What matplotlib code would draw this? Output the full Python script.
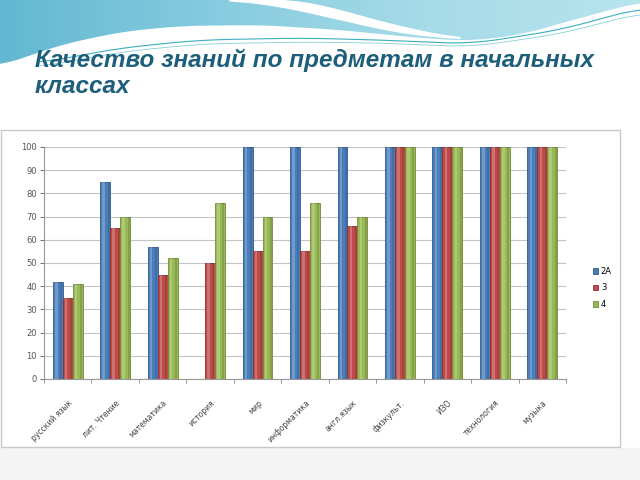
import matplotlib.pyplot as plt
import numpy as np
from matplotlib.colors import LinearSegmentedColormap
from matplotlib.patches import Polygon, Rectangle

subjects = ["русский язык", "лит. Чтение", "математика", "история", "мир",
            "информатика", "англ.язык", "физкульт.", "ИЗО", "технология", "музыка"]
series_names = ["2А", "3", "4"]
grade_2a = [42, 85, 57, 0, 100, 100, 100, 100, 100, 100, 100]
grade_3 = [35, 65, 45, 50, 55, 55, 66, 100, 100, 100, 100]
grade_4 = [41, 70, 52, 76, 70, 76, 70, 100, 100, 100, 100]
yticks = list(range(0, 101, 10))

colors = ["#4a7ebb", "#be4b48", "#98b954"]
edges = ["#2f5a8c", "#8c3130", "#6f8a38"]


def smooth(px, py, xs):
    # piecewise linear through dense control points, then a light moving average
    ys = np.interp(xs, px, py)
    k = 15
    pad = np.r_[np.full(k, ys[0]), ys, np.full(k, ys[-1])]
    return np.convolve(pad, np.ones(2 * k + 1) / (2 * k + 1), mode="same")[k:-k]


fig = plt.figure(figsize=(6.4, 4.8), dpi=100)

# slide background with the teal wave at the top
bg = fig.add_axes([0, 0, 1, 1], zorder=0)
xs = np.linspace(0, 640, 400)
ys = smooth([0, 60, 120, 180, 260, 340, 420, 470, 520, 580, 640],
            [66, 45, 32, 26, 25, 30, 38, 41, 35, 18, 2], xs)
grad = np.linspace(0, 1, 256).reshape(1, -1)
wave_cmap = LinearSegmentedColormap.from_list("wave", ["#62b8d2", "#86cbdf", "#a6dbe8", "#b8e4ee"])
img = bg.imshow(grad, extent=[0, 640, 70, 0], cmap=wave_cmap, aspect="auto", zorder=1)
clip = Polygon(np.column_stack([np.r_[0, xs, 640], np.r_[0, ys, 0]]), closed=True, transform=bg.transData)
img.set_clip_path(clip)
# white swoosh
sx = np.linspace(230, 460, 120)
upper = smooth([230, 290, 320, 400, 460], [0, 0, 5, 27, 39], sx)
lower = smooth([230, 280, 320, 400, 460], [0, 6, 15, 33, 39], sx)
bg.fill(np.r_[sx, sx[::-1]], np.r_[upper, lower[::-1]], color="white", zorder=2)
# thin teal lines
lx = np.linspace(40, 640, 300)
bg.plot(lx, smooth([40, 120, 200, 300, 380, 470, 560, 640], [63, 48, 40, 38, 40, 44, 30, 8], lx),
        color="#3aaec0", lw=0.8, zorder=3)
bg.plot(lx, smooth([40, 120, 200, 300, 380, 470, 560, 640], [67, 52, 44, 42, 43, 47, 34, 13], lx),
        color="#86cfdb", lw=0.6, zorder=3)
bg.add_patch(Rectangle((0, 448), 640, 32, color="#f4f4f4", zorder=1))
bg.add_patch(Rectangle((1, 130), 619, 317, facecolor="white", edgecolor="#c8c8c8", lw=1, zorder=2))
bg.set_xlim(0, 640)
bg.set_ylim(480, 0)
bg.axis("off")

fig.text(35 / 640, 1 - 93 / 480, "Качество знаний по предметам в начальных\nклассах",
         fontsize=17.5, fontweight="bold", fontstyle="italic", family="Liberation Sans",
         color="#1d5e7b", va="baseline", ha="left", linespacing=1.15, zorder=5)

ax = fig.add_axes([44 / 640, 1 - 379 / 480, (566 - 44) / 640, (379 - 147) / 480], zorder=3)
ax.patch.set_alpha(0)
x = np.arange(len(subjects))
w = 0.21
for i, vals in enumerate([grade_2a, grade_3, grade_4]):
    pos = x + (i - 1) * w
    ax.bar(pos, vals, w, color=colors[i], edgecolor=edges[i], linewidth=0.6, label=series_names[i], zorder=3)
    # cylinder-like shading
    ax.bar(pos - w * 0.15, vals, w * 0.25, color="white", alpha=0.22, linewidth=0, zorder=4)
    ax.bar(pos + w * 0.34, vals, w * 0.2, color="black", alpha=0.12, linewidth=0, zorder=4)

ax.set_xlim(-0.5, len(subjects) - 0.5)
ax.set_ylim(0, 100)
ax.set_yticks(yticks)
ax.tick_params(axis="y", labelsize=6, colors="#555555", length=3, width=0.6, pad=2)
ax.yaxis.grid(True, color="#c4c4c4", lw=0.8, zorder=0)
ax.set_axisbelow(True)
ax.set_xticks(x)
ax.set_xticklabels(subjects, rotation=45, ha="right", va="top", rotation_mode="anchor", fontsize=5.5, color="#444444")
ax.tick_params(axis="x", which="major", length=0, pad=14)
ax.set_xticks(np.arange(-0.5, len(subjects)), minor=True)
ax.tick_params(axis="x", which="minor", length=3, width=0.6, colors="#888888")
for side in ["top", "right"]:
    ax.spines[side].set_visible(False)
for side in ["left", "bottom"]:
    ax.spines[side].set_color("#999999")
    ax.spines[side].set_linewidth(0.8)

fig.legend(loc="center left", bbox_to_anchor=(585 / 640, 1 - 288 / 480), frameon=False,
           fontsize=6, handlelength=0.6, handleheight=0.6, handletextpad=0.4, labelspacing=0.9)

fig.savefig("out.png", dpi=100)
